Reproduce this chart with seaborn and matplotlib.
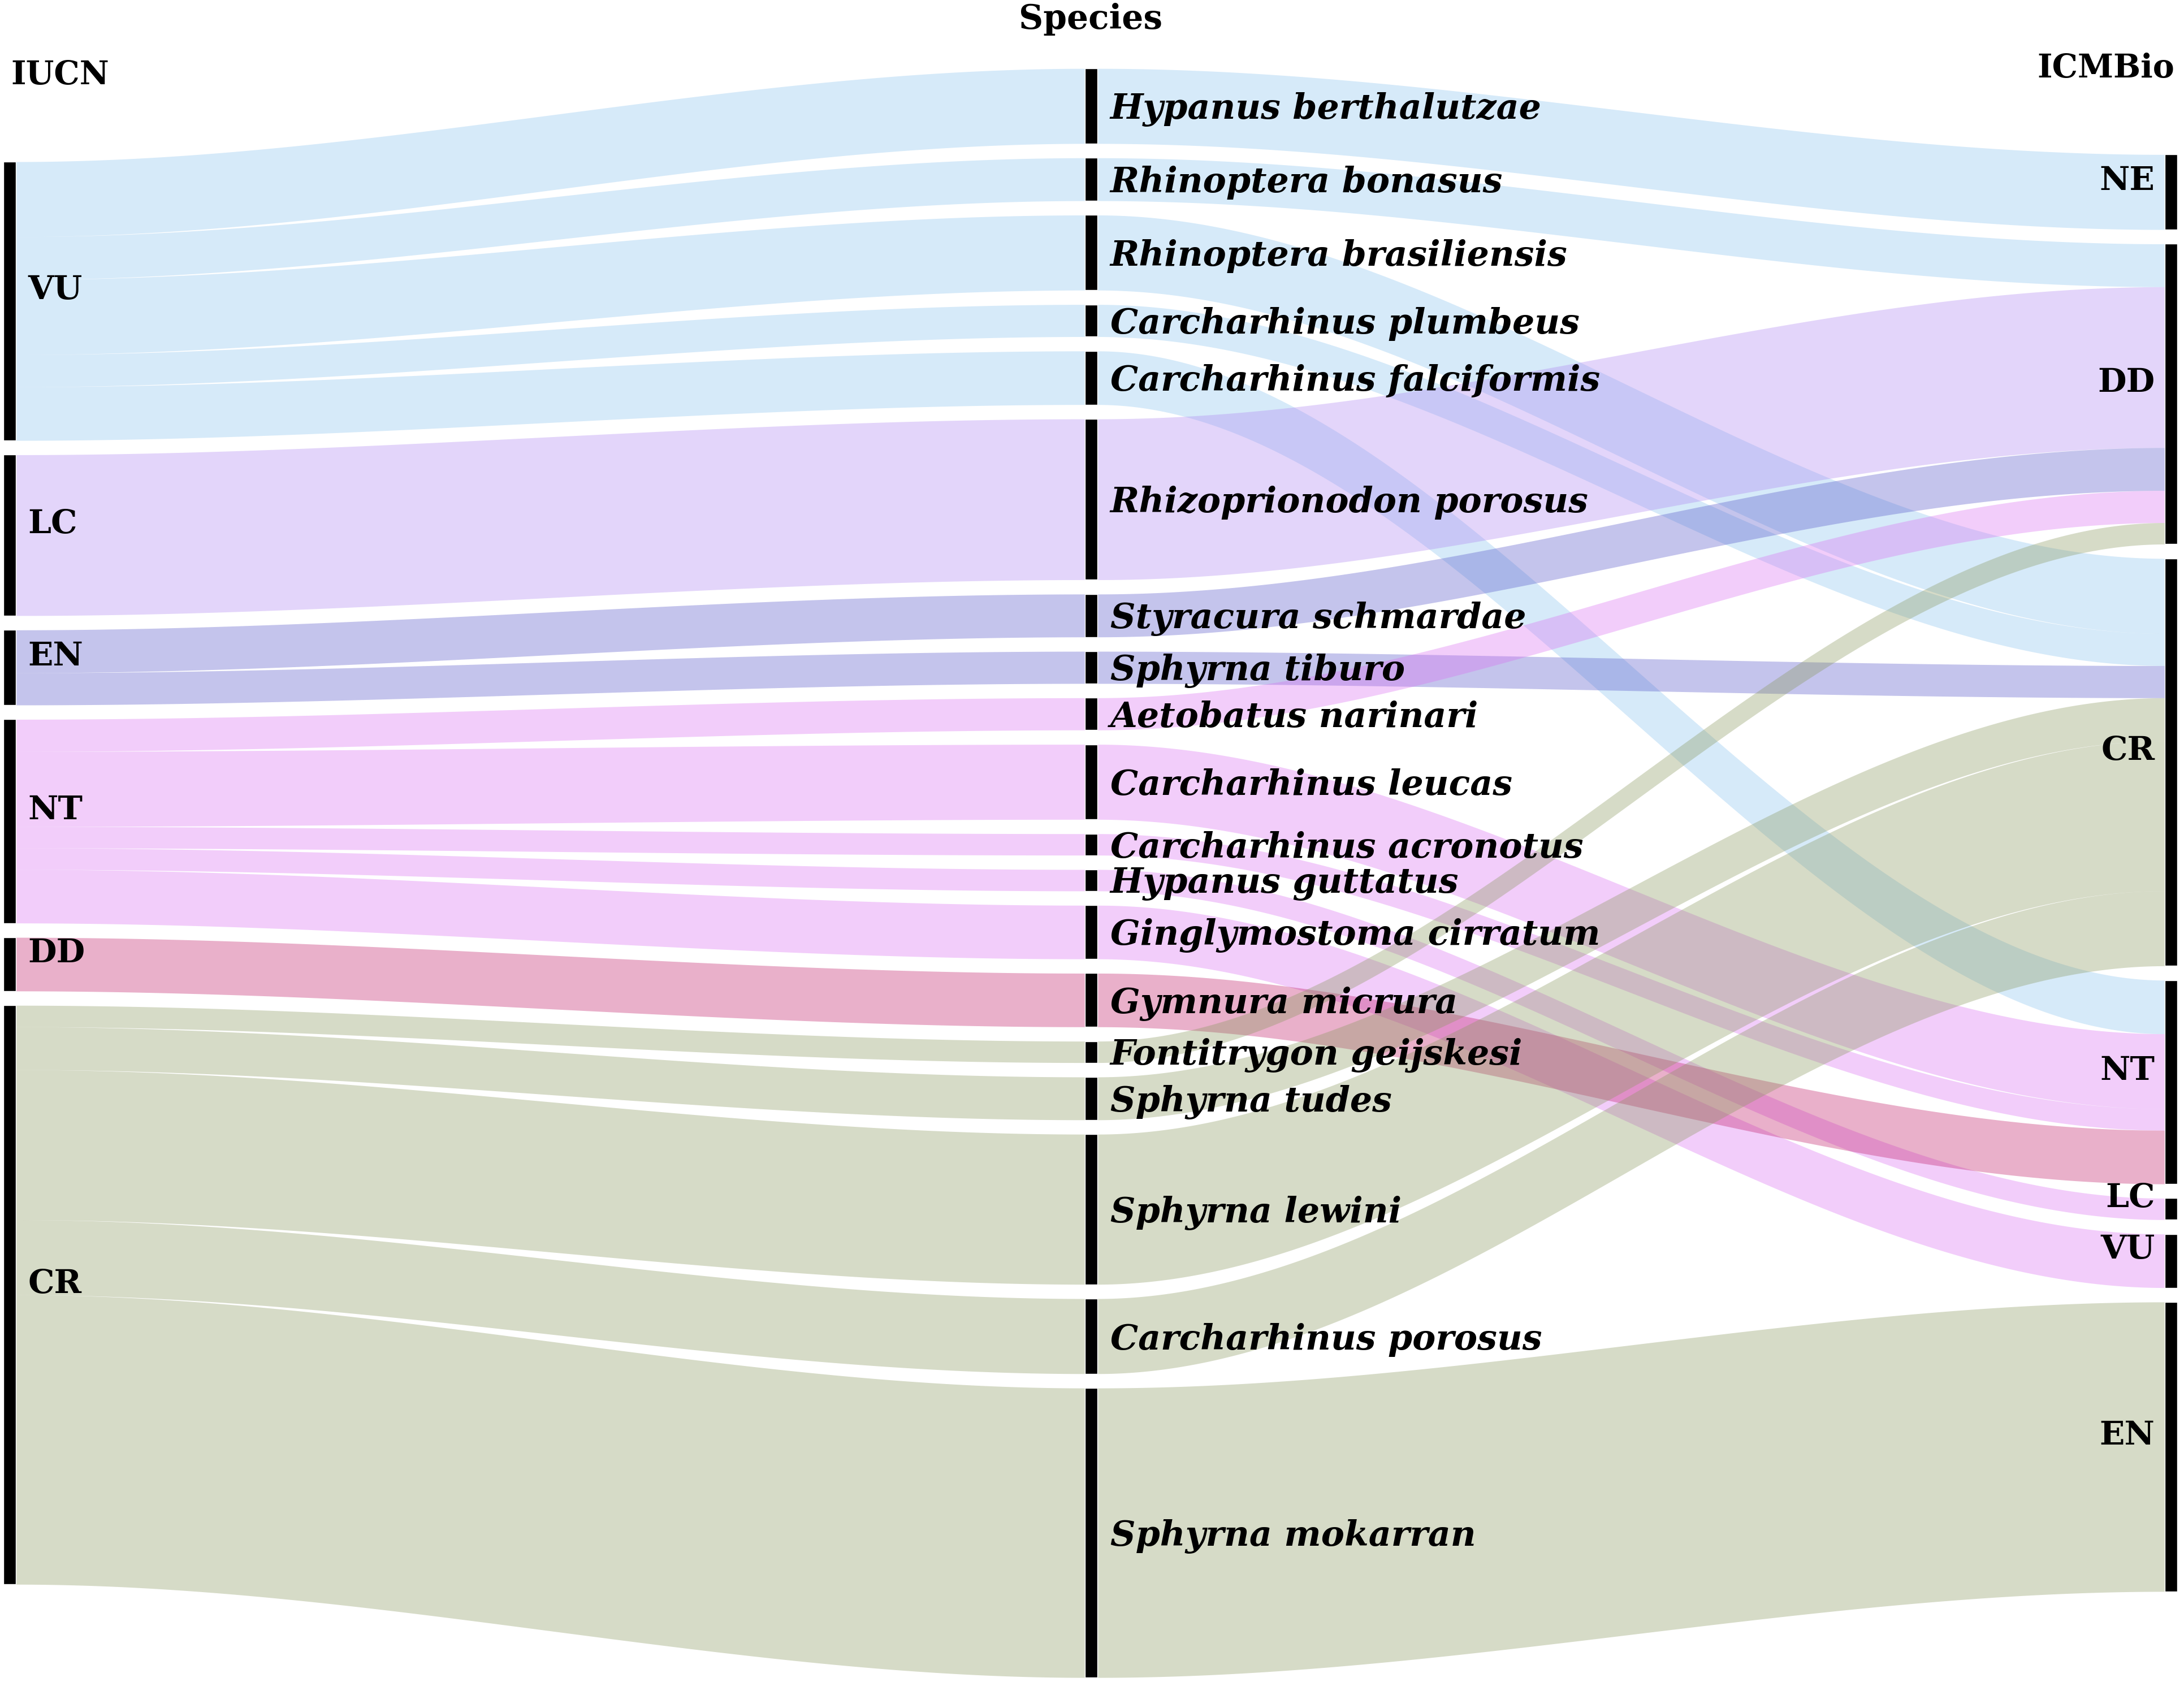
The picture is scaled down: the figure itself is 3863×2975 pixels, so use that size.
import numpy as np
import matplotlib
matplotlib.use("Agg")
import matplotlib.pyplot as plt
import seaborn as sns

# ---------------- data ----------------
species = [
    "Hypanus berthalutzae", "Rhinoptera bonasus", "Rhinoptera brasiliensis",
    "Carcharhinus plumbeus", "Carcharhinus falciformis", "Rhizoprionodon porosus",
    "Styracura schmardae", "Sphyrna tiburo", "Aetobatus narinari",
    "Carcharhinus leucas", "Carcharhinus acronotus", "Hypanus guttatus",
    "Ginglymostoma cirratum", "Gymnura micrura", "Fontitrygon geijskesi",
    "Sphyrna tudes", "Sphyrna lewini", "Carcharhinus porosus", "Sphyrna mokarran",
]
iucn_status = ["VU", "VU", "VU", "VU", "VU", "LC", "EN", "EN", "NT", "NT", "NT",
               "NT", "NT", "DD", "CR", "CR", "CR", "CR", "CR"]
icmbio_status = ["NE", "DD", "CR", "CR", "NT", "DD", "DD", "CR", "DD", "NT", "NT",
                 "LC", "VU", "NT", "DD", "CR", "CR", "CR", "EN"]
counts = [7, 4, 7, 3, 5, 15, 4, 3, 3, 7, 2, 2, 5, 5, 2, 4, 14, 7, 27]

iucn_order = ["VU", "LC", "EN", "NT", "DD", "CR"]
icmbio_order = ["NE", "DD", "CR", "NT", "LC", "VU", "EN"]
column_titles = ["IUCN", "Species", "ICMBio"]

# ---------------- style ----------------
sns.set_theme(style="white")
plt.rcParams["font.family"] = ["DejaVu Serif"]
plt.rcParams["text.color"] = "black"

FLOW_ALPHA = 0.35
# apparent (on white) ribbon colours per IUCN category
apparent = sns.color_palette(["#d6eaf9", "#e3d5fa", "#c4c4ec", "#f2cdfa",
                              "#e9b0ca", "#d6dbc7"])
flow_palette = {k: tuple(np.clip(1 - (1 - np.array(c)) / FLOW_ALPHA, 0, 1))
                for k, c in zip(iucn_order, apparent)}

UNIT = 7.7        # drawing units per count
GAP = 10.3        # gap between nodes
CENTER = 627.0
BAR_W = 9.0
X_LEFT, X_MID, X_RIGHT = 7.0, 783.5, 1558.5

fig = plt.figure(figsize=(38.63, 29.75), dpi=100)
ax = fig.add_axes([0, 0, 1, 1])
ax.set_xlim(0, 1568)
ax.set_ylim(1208, 0)
ax.axis("off")


def stack(order, keys):
    totals = [sum(c for c, k in zip(counts, keys) if k == n) * UNIT for n in order]
    span = sum(totals) + GAP * (len(order) - 1)
    tops, y = [], CENTER - span / 2
    for t in totals:
        tops.append(y)
        y += t + GAP
    return dict(zip(order, tops)), dict(zip(order, totals))


left_top, left_h = stack(iucn_order, iucn_status)
mid_top, mid_h = stack(species, species)
right_top, right_h = stack(icmbio_order, icmbio_status)

left_off = {k: 0.0 for k in iucn_order}
right_off = {k: 0.0 for k in icmbio_order}
flows = []
for sp, a, b, c in zip(species, iucn_status, icmbio_status, counts):
    h = c * UNIT
    ly = left_top[a] + left_off[a]
    left_off[a] += h
    ry = right_top[b] + right_off[b]
    right_off[b] += h
    flows.append((sp, a, ly, mid_top[sp], ry, h))


def ribbon(x0, x1, y0, y1, h, color):
    x = np.linspace(x0, x1, 300)
    t = (x - x0) / (x1 - x0)
    s = t * t * (3 - 2 * t)
    top = y0 + (y1 - y0) * s
    ax.fill_between(x, top, top + h, color=color, alpha=FLOW_ALPHA, lw=0, zorder=1)


for sp, a, ly, my, ry, h in flows:
    col = flow_palette[a]
    ribbon(X_LEFT + BAR_W / 2, X_MID - BAR_W / 2, ly, my, h, col)
    ribbon(X_MID + BAR_W / 2, X_RIGHT - BAR_W / 2, my, ry, h, col)

# node bars
for xc, tops, hs in [(X_LEFT, left_top, left_h), (X_MID, mid_top, mid_h),
                     (X_RIGHT, right_top, right_h)]:
    keys = list(tops)
    ax.bar([xc] * len(keys), [hs[k] for k in keys], bottom=[tops[k] for k in keys],
           width=BAR_W, color="black", zorder=2)

# labels
CAT_FS = 42
SP_FS = 44.5
for k in iucn_order:
    ax.text(20, left_top[k] + left_h[k] / 2 - 1.5, k, ha="left", va="baseline",
            fontsize=CAT_FS, fontweight="bold", color="black", zorder=3)
for k in icmbio_order:
    ax.text(1547, right_top[k] + right_h[k] / 2 - 1.5, k, ha="right", va="baseline",
            fontsize=CAT_FS, fontweight="bold", color="black", zorder=3)
for sp in species:
    ax.text(797, mid_top[sp] + mid_h[sp] / 2 + 2.5, sp, ha="left", va="center",
            fontsize=SP_FS, fontweight="bold", fontstyle="italic", color="black",
            zorder=3)

ax.text(8, 54, column_titles[0], ha="left", va="center", fontsize=41,
        fontweight="bold", color="black")
ax.text(783, 14, column_titles[1], ha="center", va="center", fontsize=43,
        fontweight="bold", color="black")
ax.text(1561, 49, column_titles[2], ha="right", va="center", fontsize=41,
        fontweight="bold", color="black")

fig.savefig("out.png", dpi=100, facecolor="white")
